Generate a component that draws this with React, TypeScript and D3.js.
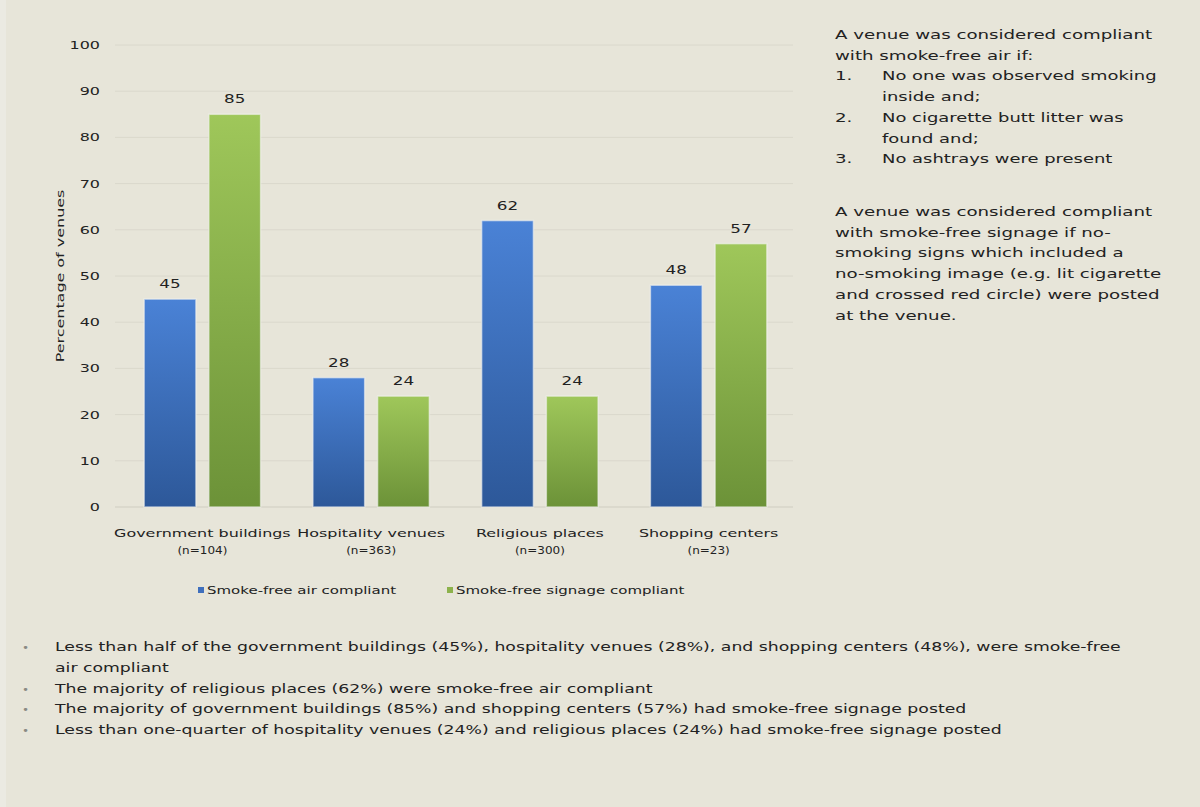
import React from "react";
import * as d3 from "d3";

const categories = ["Government buildings", "Hospitality venues", "Religious places", "Shopping centers"];
const sampleSizes = ["(n=104)", "(n=363)", "(n=300)", "(n=23)"];
const seriesNames = ["Smoke-free air compliant", "Smoke-free signage compliant"];
const airCompliant = [45, 28, 62, 48];
const signageCompliant = [85, 24, 24, 57];
const yTicks = [0, 10, 20, 30, 40, 50, 60, 70, 80, 90, 100];
const yTitle = "Percentage of venues";

const noteAirIntro = ["A venue was considered compliant", "with smoke-free air if:"];
const noteAirItems = [
  ["1.", "No one was observed smoking", "inside and;"],
  ["2.", "No cigarette butt litter was", "found and;"],
  ["3.", "No ashtrays were present"],
];
const noteSignage = [
  "A venue was considered compliant",
  "with smoke-free signage if no-",
  "smoking signs which included a",
  "no-smoking image (e.g. lit cigarette",
  "and crossed red circle) were posted",
  "at the venue.",
];
const bullets = [
  ["Less than half of the government buildings (45%), hospitality venues (28%), and shopping centers (48%), were smoke-free", "air compliant"],
  ["The majority of religious places (62%) were smoke-free air compliant"],
  ["The majority of government buildings (85%) and shopping centers (57%) had smoke-free signage posted"],
  ["Less than one-quarter of hospitality venues (24%) and religious places (24%) had smoke-free signage posted"],
];

const FONT = "'DejaVu Sans', sans-serif";
const TEXT = "#222222";

function T({ x, y, children, size = 13, anchor = "start", fill = TEXT, rotate = 0, sx = 1.2 }: any) {
  const tr = rotate
    ? `translate(${x},${y}) rotate(${rotate}) scale(${sx},1)`
    : `translate(${x},${y}) scale(${sx},1)`;
  return (
    <text transform={tr} fontFamily={FONT} fontSize={size} textAnchor={anchor} fill={fill}>
      {children}
    </text>
  );
}

export default function App() {
  const W = 1200, H = 807;
  const x = d3.scaleBand<string>().domain(categories).range([118, 793]).paddingInner(0.31).paddingOuter(0.155);
  const xs = d3.scaleBand<string>().domain(seriesNames).range([0, x.bandwidth()]).paddingInner(0.2);
  const y = d3.scaleLinear().domain([0, 100]).range([507, 45]);
  const series = [airCompliant, signageCompliant];
  const fills = ["url(#gBlue)", "url(#gGreen)"];
  const legendColors = ["#3f6fbd", "#8db24c"];

  return (
    <div style={{ position: "absolute", left: 0, top: 0 }}>
      <svg width={W} height={H} style={{ display: "block" }}>
        <defs>
          <linearGradient id="gBlue" x1="0" y1="0" x2="0" y2="1">
            <stop offset="0" stopColor="#4a82d6" />
            <stop offset="1" stopColor="#2d5899" />
          </linearGradient>
          <linearGradient id="gGreen" x1="0" y1="0" x2="0" y2="1">
            <stop offset="0" stopColor="#9fc75a" />
            <stop offset="1" stopColor="#6c9238" />
          </linearGradient>
        </defs>
        <rect x={0} y={0} width={W} height={H} fill="#e7e5d9" />
        <rect x={0} y={0} width={6} height={H} fill="#ebeae2" />

        {yTicks.map((t) => (
          <g key={t}>
            <line x1={115} x2={793} y1={y(t)} y2={y(t)} stroke={t === 0 ? "#cfcdc1" : "#dad8cc"} strokeWidth={1} />
            <T x={100} y={y(t) + 4} size={11} sx={1.45} anchor="end">{t}</T>
          </g>
        ))}
        <T x={64} y={276} size={11} sx={1.45} anchor="middle" rotate={-90}>{yTitle}</T>

        {categories.map((c, i) => (
          <g key={c} transform={`translate(${x(c)},0)`}>
            {series.map((vals, s) => {
              const bx = xs(seriesNames[s])!;
              const v = vals[i];
              return (
                <g key={s}>
                  <rect x={bx} y={y(v)} width={xs.bandwidth()} height={y(0) - y(v)} fill={fills[s]}
                    stroke="#f4f4f0" strokeOpacity={0.6} strokeWidth={1.5} />
                  <T x={bx + xs.bandwidth() / 2} y={y(v) - 11} size={12} sx={1.4} anchor="middle">{v}</T>
                </g>
              );
            })}
            <T x={x.bandwidth() / 2} y={537} size={11} sx={1.45} anchor="middle">{c}</T>
            <T x={x.bandwidth() / 2} y={554} size={10} sx={1.2} anchor="middle">{sampleSizes[i]}</T>
          </g>
        ))}

        {seriesNames.map((n, i) => {
          const lx = [198, 447][i];
          return (
            <g key={n}>
              <rect x={lx} y={587} width={6} height={6} fill={legendColors[i]} />
              <T x={lx + 9} y={594} size={10} sx={1.5}>{n}</T>
            </g>
          );
        })}

        {noteAirIntro.map((l, i) => (
          <T key={l} x={835} y={39 + i * 20.7} size={13} sx={1.4}>{l}</T>
        ))}
        {(() => {
          const rows: any[] = [];
          let line = 2;
          noteAirItems.forEach((item) => {
            rows.push(<T key={item[0]} x={835} y={39 + line * 20.7} size={13} sx={1.4}>{item[0]}</T>);
            item.slice(1).forEach((txt) => {
              rows.push(<T key={txt} x={882} y={39 + line * 20.7} size={13} sx={1.38}>{txt}</T>);
              line++;
            });
          });
          return rows;
        })()}
        {noteSignage.map((l, i) => (
          <T key={l + i} x={835} y={216 + i * 20.7} size={13} sx={1.4}>{l}</T>
        ))}

        {(() => {
          const rows: any[] = [];
          let line = 0;
          bullets.forEach((b, bi) => {
            rows.push(<T key={"b" + bi} x={22} y={651 + line * 20.8} size={10} fill="#8a8a84">•</T>);
            b.forEach((txt) => {
              rows.push(<T key={txt} x={55} y={651 + line * 20.8} size={13} sx={1.33}>{txt}</T>);
              line++;
            });
          });
          return rows;
        })()}
      </svg>
    </div>
  );
}
